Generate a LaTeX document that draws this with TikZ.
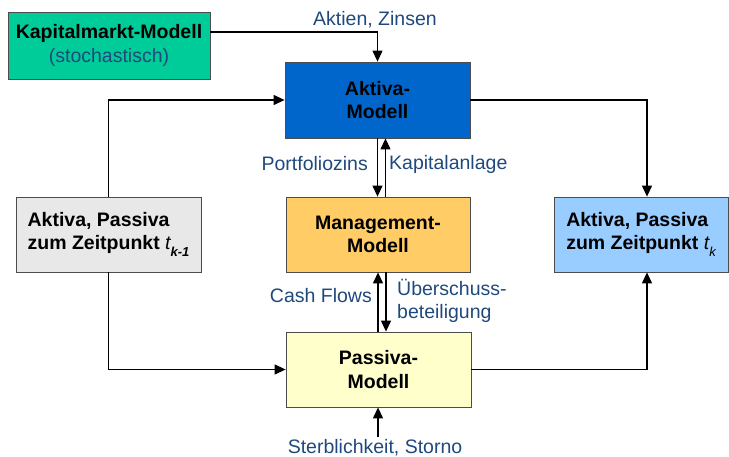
\documentclass[tikz,border=0pt]{standalone}
\usepackage{fontspec}
\setmainfont{Liberation Sans}
\usetikzlibrary{arrows.meta,calc}
\definecolor{lbl}{RGB}{31,73,125}
\definecolor{kapgreen}{RGB}{0,204,153}
\definecolor{aktblue}{RGB}{0,102,204}
\definecolor{mgmtorange}{RGB}{255,204,102}
\definecolor{pasyellow}{RGB}{255,255,204}
\definecolor{oldgray}{RGB}{232,232,232}
\definecolor{newblue}{RGB}{153,204,255}
\begin{document}
\begin{tikzpicture}[x=1pt,y=-1pt,
  box/.style={draw=black!70,line width=0.8pt,inner sep=0pt,align=center,
    font=\fontsize{19.5}{23.5}\selectfont\bfseries},
  conn/.style={line width=1.2pt,-{Triangle[length=11pt,width=10pt]}},
  lab/.style={text=lbl,font=\fontsize{19.5}{23}\selectfont,inner sep=0pt}]
\useasboundingbox (0,0) rectangle (729,457);

\node[box,fill=kapgreen,minimum width=202pt,minimum height=67pt] (kap) at (109,45.5)
  {Kapitalmarkt-Modell\\{\mdseries\color{lbl}(stochastisch)}};
\node[box,fill=aktblue,minimum width=185pt,minimum height=76pt] (akt) at (377.5,100)
  {Aktiva-\\Modell};
\node[box,fill=oldgray,minimum width=185pt,minimum height=75pt,align=left] (old) at (108.5,234.5)
  {Aktiva, Passiva\\zum Zeitpunkt {\mdseries\itshape t}\raisebox{-0.35em}{\fontsize{13}{13}\selectfont\bfseries\itshape k-1}};
\node[box,fill=mgmtorange,minimum width=184pt,minimum height=75pt] (mgmt) at (378,234.5)
  {Management-\\Modell};
\node[box,fill=pasyellow,minimum width=185pt,minimum height=75pt] (pas) at (378.5,369.5)
  {Passiva-\\Modell};
\node[box,fill=newblue,minimum width=174pt,minimum height=75pt,align=left] (new) at (641,234.5)
  {Aktiva, Passiva\\zum Zeitpunkt {\mdseries\itshape t}\raisebox{-0.35em}{\fontsize{13}{13}\selectfont\mdseries\itshape k}};

\coordinate (kapout) at ($(kap.north east)!0.3!(kap.south east)$);
\coordinate (bottomin) at (378,437);

\draw[conn] (kapout) -| (akt.north);
\draw[conn] (old.north) |- (akt.west);
\draw[conn] (old.south) |- (pas.west);
\draw[conn] (akt.east) -| ([xshift=6pt]new.north);
\draw[conn] (pas.east) -| ([xshift=6pt]new.south);
\draw[conn] (akt.south) -- (akt.south |- mgmt.north);
\draw[conn] ([xshift=8pt]akt.south |- mgmt.north) -- ([xshift=8pt]akt.south);
\draw[conn] (pas.north -| mgmt.south) -- (mgmt.south);
\draw[conn] ([xshift=8pt]mgmt.south) -- ([xshift=8pt]pas.north -| mgmt.south);
\draw[conn] (bottomin) -- (pas.south -| bottomin);

\node[lab] (l1) at (375,20) {Aktien, Zinsen};
\node[lab,anchor=east] (l2) at (368,164) {Portfoliozins};
\node[lab,anchor=west] (l3) at (389,164) {Kapitalanlage};
\node[lab,anchor=east] (l4) at (372,296) {Cash Flows};
\node[lab,anchor=west,align=left] (l5) at (397,300.5) {Überschuss-\\beteiligung};
\node[lab] (l6) at (375,447.5) {Sterblichkeit, Storno};
\end{tikzpicture}
\end{document}
